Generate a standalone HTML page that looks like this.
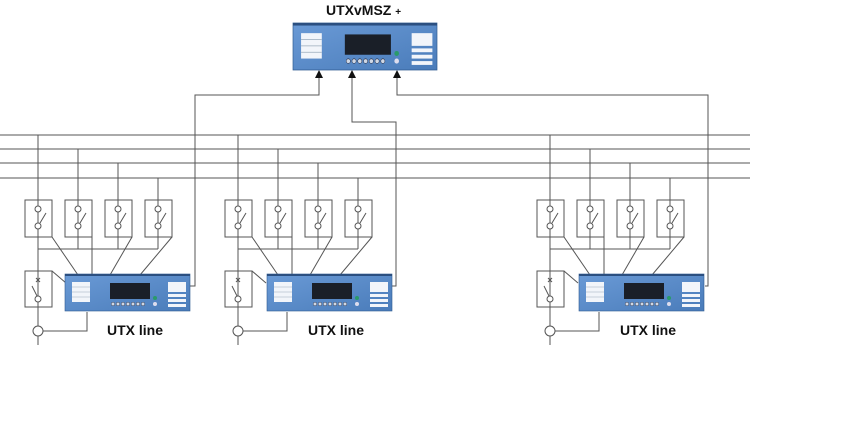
<!DOCTYPE html>
<html><head><style>body{margin:0;background:#fff}svg{display:block}</style></head><body>
<svg width="842" height="444" viewBox="0 0 842 444" xmlns="http://www.w3.org/2000/svg" font-family="Liberation Sans, sans-serif">
<defs>
<linearGradient id="bg" x1="0" y1="0" x2="1" y2="1"><stop offset="0" stop-color="#6a9ad6"/><stop offset="1" stop-color="#4a7cba"/></linearGradient>
<g id="dev">
<rect x="0" y="0" width="125" height="37" fill="url(#bg)" stroke="#2f5a90" stroke-width="0.6"/>
<rect x="0" y="0" width="125" height="2" fill="#2b4f80"/>
<rect x="7" y="8" width="18" height="20" fill="#f2f5fa"/>
<line x1="7" y1="13" x2="25" y2="13" stroke="#9ab" stroke-width="0.6"/><line x1="7" y1="18" x2="25" y2="18" stroke="#9ab" stroke-width="0.6"/><line x1="7" y1="23" x2="25" y2="23" stroke="#9ab" stroke-width="0.6"/>
<rect x="45" y="9" width="40" height="16" fill="#1a1f28"/>
<g fill="#cfd8e6" stroke="#223" stroke-width="0.4"><circle cx="48" cy="30" r="1.8"/><circle cx="53" cy="30" r="1.8"/><circle cx="58" cy="30" r="1.8"/><circle cx="63" cy="30" r="1.8"/><circle cx="68" cy="30" r="1.8"/><circle cx="73" cy="30" r="1.8"/><circle cx="78" cy="30" r="1.8"/></g>
<circle cx="90" cy="24" r="2" fill="#2a9a6a"/><circle cx="90" cy="30" r="2" fill="#dde"/>
<rect x="103" y="8" width="18" height="10" fill="#f2f5fa"/>
<rect x="103" y="20" width="18" height="3" fill="#f2f5fa"/><rect x="103" y="25" width="18" height="3" fill="#f2f5fa"/><rect x="103" y="30" width="18" height="3" fill="#f2f5fa"/>
</g>
<g id="grp" fill="none" stroke="#555" stroke-width="1">
<line x1="38" y1="135" x2="38" y2="345"/>
<line x1="78" y1="149" x2="78" y2="249"/>
<line x1="118" y1="163" x2="118" y2="249"/>
<line x1="158" y1="178" x2="158" y2="249"/>
<line x1="38" y1="249" x2="158" y2="249"/>
<rect x="25" y="200" width="27" height="37"/><rect x="65" y="200" width="27" height="37"/><rect x="105" y="200" width="27" height="37"/><rect x="145" y="200" width="27" height="37"/>
<g fill="#fff"><circle cx="38" cy="209" r="3"/><circle cx="38" cy="226" r="3"/><circle cx="78" cy="209" r="3"/><circle cx="78" cy="226" r="3"/><circle cx="118" cy="209" r="3"/><circle cx="118" cy="226" r="3"/><circle cx="158" cy="209" r="3"/><circle cx="158" cy="226" r="3"/></g>
<line x1="40" y1="223" x2="46" y2="213"/><line x1="80" y1="223" x2="86" y2="213"/><line x1="120" y1="223" x2="126" y2="213"/><line x1="160" y1="223" x2="166" y2="213"/>
<line x1="52" y1="237" x2="78" y2="275"/><line x1="92" y1="237" x2="92" y2="275"/><line x1="132" y1="237" x2="110" y2="275"/><line x1="172" y1="237" x2="140" y2="275"/>
<rect x="25" y="271" width="27" height="36"/>
<line x1="52" y1="271" x2="66" y2="283"/>
<line x1="36" y1="278" x2="40" y2="282"/><line x1="40" y1="278" x2="36" y2="282"/>
<line x1="38" y1="270" x2="38" y2="282"/>
<line x1="37" y1="296" x2="32" y2="286"/>
<circle cx="38" cy="299" r="3" fill="#fff"/>
<circle cx="38" cy="331" r="5" fill="#fff"/>
<polyline points="43,331 87,331 87,312"/>
</g>
</defs>
<g fill="none" stroke="#555" stroke-width="1">
<line x1="0" y1="135" x2="750" y2="135"/><line x1="0" y1="149" x2="750" y2="149"/><line x1="0" y1="163" x2="750" y2="163"/><line x1="0" y1="178" x2="750" y2="178"/>
<polyline points="190,286 195,286 195,95 319,95 319,76"/>
<polyline points="392,286 396,286 396,122 352,122 352,76"/>
<polyline points="705,286 708,286 708,95 397,95 397,76"/>
</g>
<g fill="#111"><path d="M315,78 L323,78 L319,70Z"/><path d="M348,78 L356,78 L352,70Z"/><path d="M393,78 L401,78 L397,70Z"/></g>
<use href="#grp"/><use href="#grp" x="200"/><use href="#grp" x="512"/>
<use href="#dev" x="65" y="274"/><use href="#dev" x="267" y="274"/><use href="#dev" x="579" y="274"/>
<g transform="translate(293,23) scale(1.152,1.27)"><use href="#dev"/></g>
<g font-weight="bold" font-size="14" fill="#111">
<text x="107" y="335">UTX line</text><text x="308" y="335">UTX line</text><text x="620" y="335">UTX line</text>
<text x="326" y="15">UTXvMSZ <tspan font-size="10">+</tspan></text>
</g>
</svg>
</body></html>
